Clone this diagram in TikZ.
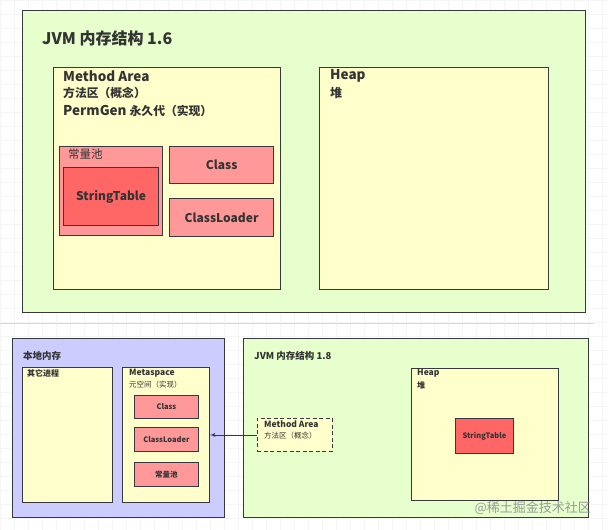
\documentclass[tikz,border=0pt]{standalone}
\usepackage{fontspec}
\setmainfont{Noto Sans CJK SC}
\usetikzlibrary{arrows,arrows.meta,positioning,backgrounds}
\definecolor{JGreen}{HTML}{E6FFCC}
\definecolor{JYellow}{HTML}{FFFFCC}
\definecolor{JPink}{HTML}{FF9999}
\definecolor{JRed}{HTML}{FF6666}
\definecolor{JPurple}{HTML}{CCCCFF}
\definecolor{JLine}{HTML}{36393D}
\definecolor{JText}{HTML}{333333}
\newcommand{\txtsize}[1]{\fontsize{#1}{#1}\selectfont}
\tikzset{
    area/.style = {draw=JLine, rectangle, anchor=north west, inner sep=0pt},
    bigarea/.style = {area, line width=1.3pt},
    smallarea/.style = {area, line width=0.9pt},
    label/.style = {anchor=west, inner sep=0pt, text=JText},
    boxtext/.style = {text=JText, font=\bfseries\txtsize{#1}},
    gridline/.style = {black!4, line width=0.4pt}
}
\begin{document}
\begin{tikzpicture}[x=1pt, y=-1pt, >=latex']
        \useasboundingbox (0,0) rectangle (608,530);
        \fill[white] (0,0) rectangle (608,530);
        \draw[gridline, step=14pt] (0,0) grid (608,530);
        \draw[black!15, line width=0.6pt] (0,323) -- (594,323);
        % JVM 1.6
        \node[bigarea, fill=JGreen, minimum width=563, minimum height=302] (jvm6) at (22,10) {};
        \node[label, font=\bfseries\txtsize{16}] (title6) at (42,38) {JVM 内存结构 1.6};
        \node[bigarea, fill=JYellow, minimum width=227, minimum height=222] (method6) at (53,67) {};
        \node[label, font=\bfseries\txtsize{13.5}] (methodt6a) at (63,76) {Method Area};
        \node[label, font=\bfseries\txtsize{11.8}] (methodt6b) at (63,93) {方法区（概念）};
        \node[label, font=\bfseries\txtsize{13.5}] (methodt6c) at (63,111) {PermGen {\txtsize{11.8}永久代（实现）}};
        \node[bigarea, fill=JYellow, minimum width=229, minimum height=222] (heap6) at (319,67) {};
        \node[label, font=\bfseries\txtsize{13.5}] (heapt6a) at (330,76) {Heap};
        \node[label, font=\bfseries\txtsize{12}] (heapt6b) at (330,93) {堆};
        \node[bigarea, fill=JPink, minimum width=103, minimum height=89] (pool6) at (59,146) {};
        \node[label, font=\txtsize{11.5}] (poolt6) at (68,154) {常量池};
        \node[bigarea, fill=JRed, minimum width=95, minimum height=58] (string6) at (63,167) {};
        \node[boxtext=12] at (string6.center) {StringTable};
        \node[bigarea, fill=JPink, minimum width=104, minimum height=37] (class6) at (169,146) {};
        \node[boxtext=12] at (class6.center) {Class};
        \node[bigarea, fill=JPink, minimum width=104, minimum height=38] (loader6) at (169,198) {};
        \node[boxtext=12] at (loader6.center) {ClassLoader};
        % native memory
        \node[smallarea, fill=JPurple, minimum width=212, minimum height=179] (native) at (12,338) {};
        \node[label, font=\bfseries\txtsize{9.5}] (nativet) at (23,356) {本地内存};
        \node[smallarea, fill=JYellow, minimum width=90, minimum height=135] (other) at (22,367) {};
        \node[label, font=\bfseries\txtsize{8}] (othert) at (27,373) {其它进程};
        \node[smallarea, fill=JYellow, minimum width=87, minimum height=135] (meta) at (122,367) {};
        \node[label, font=\bfseries\txtsize{8.5}] (metata) at (129,373) {Metaspace};
        \node[label, font=\txtsize{7.5}] (metatb) at (129,385) {元空间（实现）};
        \node[smallarea, fill=JPink, minimum width=64, minimum height=23] (class8) at (134,395) {};
        \node[boxtext=7.5] at (class8.center) {Class};
        \node[smallarea, fill=JPink, minimum width=64, minimum height=24] (loader8) at (134,427) {};
        \node[boxtext=7.5] at (loader8.center) {ClassLoader};
        \node[smallarea, fill=JPink, minimum width=64, minimum height=24] (pool8) at (134,462) {};
        \node[boxtext=7.5] at (pool8.center) {常量池};
        % JVM 1.8
        \node[smallarea, fill=JGreen, minimum width=345, minimum height=179] (jvm8) at (243,338) {};
        \node[label, font=\bfseries\txtsize{9.5}] (title8) at (254,356) {JVM 内存结构 1.8};
        \node[smallarea, fill=JYellow, minimum width=147, minimum height=132] (heap8) at (411,368) {};
        \node[label, font=\bfseries\txtsize{8.5}] (heapt8a) at (417,373) {Heap};
        \node[label, font=\bfseries\txtsize{8}] (heapt8b) at (417,385) {堆};
        \node[smallarea, fill=JRed, minimum width=58, minimum height=35] (string8) at (455,418) {};
        \node[boxtext=7.5] at (string8.center) {StringTable};
        \node[smallarea, fill=JYellow, dashed, dash pattern=on 4pt off 2.5pt, minimum width=75, minimum height=33] (method8) at (257,418) {};
        \node[label, font=\bfseries\txtsize{8.5}] (methodt8a) at (264,424) {Method Area};
        \node[label, font=\txtsize{7.5}] (methodt8b) at (264,436) {方法区（概念）};
        \draw[->, JLine, line width=0.9pt] (method8.west) -- (meta.east);
        \node[anchor=east, inner sep=0pt, text=black!40, font=\txtsize{13}] (mark) at (591,508) {@稀土掘金技术社区};
\end{tikzpicture}
\end{document}
